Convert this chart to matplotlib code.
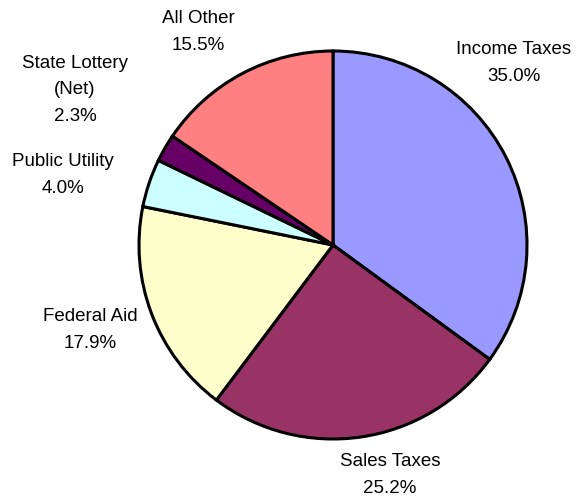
import numpy as np
import matplotlib
matplotlib.use('Agg')
from matplotlib import pyplot as plt

# data
labels = ['Income Taxes', 'Sales Taxes', 'Federal Aid', 'Public Utility',
          'State Lottery\n(Net)', 'All Other']
shares = [35.0, 25.2, 17.9, 4.0, 2.3, 15.5]
colors = ['#9999FF', '#993366', '#FFFFCC', '#CCFFFF', '#660066', '#FF8080']

# label anchor positions in pie units (radius = 1)
label_pos = [(0.933, 0.938), (0.294, -1.186), (-1.253, -0.438),
             (-1.392, 0.361), (-1.330, 0.799), (-0.696, 1.098)]

plt.rcParams['font.family'] = ['Liberation Sans', 'DejaVu Sans']

fig = plt.figure(figsize=(5.83, 5.04), dpi=100)
r_px = 194
cx, cy = 333, 504 - 245
ax = fig.add_axes([(cx - r_px) / 583, (cy - r_px) / 504, 2 * r_px / 583, 2 * r_px / 504])

ax.pie(shares, colors=colors, startangle=90, counterclock=False, radius=1,
       wedgeprops=dict(edgecolor='black', linewidth=2.2))
ax.set_xlim(-1, 1)
ax.set_ylim(-1, 1)
ax.set_aspect('auto')
ax.axis('off')

for lab, val, (x, y) in zip(labels, shares, label_pos):
    ax.text(x, y, f'{lab}\n{val:.1f}%', ha='center', va='center',
            fontsize=13.5, linespacing=1.75, color='black', clip_on=False)

fig.savefig('out.png', dpi=100)
